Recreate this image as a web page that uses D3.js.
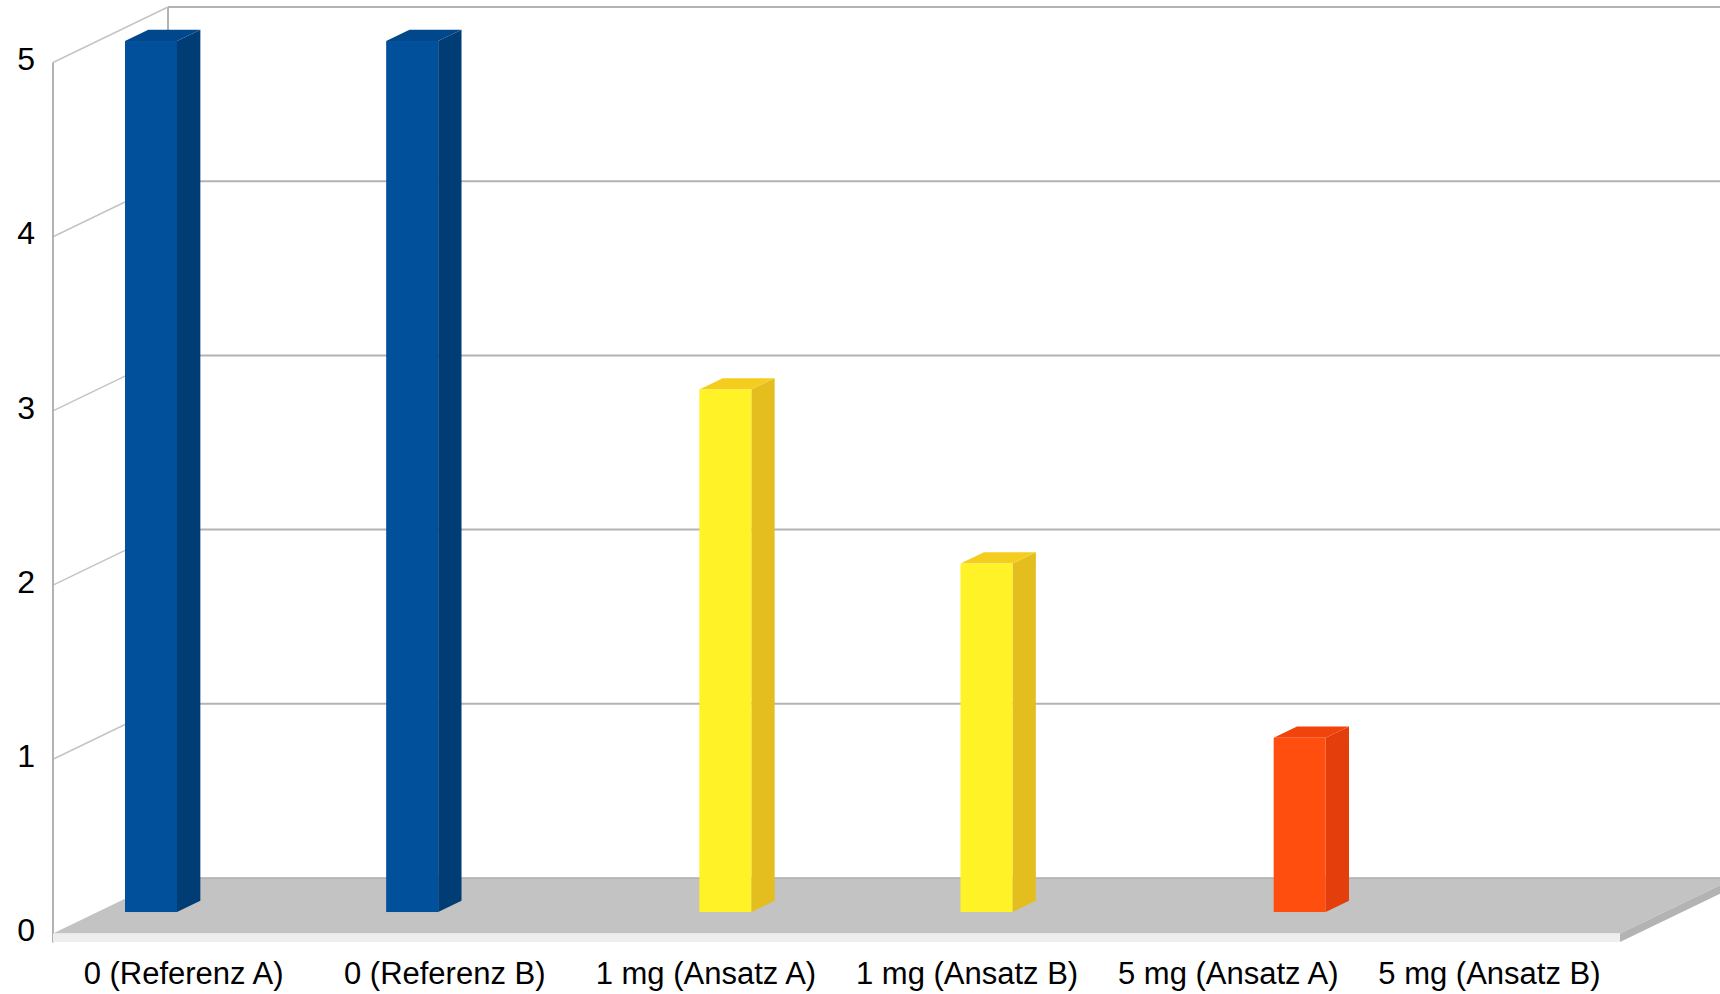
<!DOCTYPE html>
<html lang="de">
<head>
  <meta charset="UTF-8">
  <title>3D Säulendiagramm</title>
  <script src="https://d3js.org/d3.v7.min.js"></script>
  <style>
    body {
      margin: 0;
      padding: 0;
      background: #ffffff;
    }
    svg {
      display: block;
      font-family: "Liberation Sans", Arial, sans-serif;
    }
  </style>
</head>
<body>
  <svg width="1720" height="994"></svg>

  <script>
    // data
    const categories = ["0 (Referenz A)", "0 (Referenz B)", "1 mg (Ansatz A)", "1 mg (Ansatz B)", "5 mg (Ansatz A)", "5 mg (Ansatz B)"];
    const seriesNames = ["Reihe 1", "Reihe 2", "Reihe 3"];
    const series1 = [5, 5, 0, 0, 0, 0];
    const series2 = [0, 0, 3, 2, 0, 0];
    const series3 = [0, 0, 0, 0, 1, 0];
    const yTicks = [0, 1, 2, 3, 4, 5];

    const seriesValues = [series1, series2, series3];
    const colors = [
      {front: "#00509b", side: "#003d75", top: "#00478b"},
      {front: "#fff226", side: "#e3be1e", top: "#f4cd1e"},
      {front: "#ff4e0e", side: "#e33e0c", top: "#f0440c"}
    ];

    const svg = d3.select("svg");

    // simple oblique projection: x on back wall, value, depth t (0 = back, 1 = front)
    const depthX = 115, depthY = 55.5;
    const wallLeft = 168;
    const floorWidth = 1567;

    const yScale = d3.scaleLinear().domain([0, 5]).range([878, 7]);
    const xScale = d3.scaleBand().domain(categories).range([wallLeft, wallLeft + floorWidth]);
    const slotScale = d3.scaleBand().domain(seriesNames).range([27.5, 27.5 + 3 * 52]);

    const proj = (x, v, t) => [x - depthX * t, yScale(v) + depthY * t];
    const pts = arr => arr.map(p => p.join(",")).join(" ");

    const gridColor = "#b3b3b3";

    // back wall
    const back = svg.append("g");
    back.selectAll("line.grid")
      .data(yTicks.filter(d => d > 0))
      .join("line")
      .attr("x1", wallLeft)
      .attr("x2", 1720)
      .attr("y1", d => yScale(d))
      .attr("y2", d => yScale(d))
      .attr("stroke", gridColor)
      .attr("stroke-width", 2);
    back.append("line")
      .attr("x1", wallLeft).attr("x2", wallLeft)
      .attr("y1", yScale(5)).attr("y2", yScale(0))
      .attr("stroke", gridColor)
      .attr("stroke-width", 2);

    // left wall
    const side = svg.append("g");
    side.selectAll("line.grid")
      .data(yTicks.filter(d => d > 0))
      .join("line")
      .attr("x1", d => proj(wallLeft, d, 0)[0])
      .attr("y1", d => proj(wallLeft, d, 0)[1])
      .attr("x2", d => proj(wallLeft, d, 1)[0])
      .attr("y2", d => proj(wallLeft, d, 1)[1])
      .attr("stroke", "#c4c4c4")
      .attr("stroke-width", 1.5);
    side.append("line")
      .attr("x1", wallLeft - depthX).attr("x2", wallLeft - depthX)
      .attr("y1", proj(wallLeft, 5, 1)[1]).attr("y2", proj(wallLeft, 0, 1)[1] + 9)
      .attr("stroke", gridColor)
      .attr("stroke-width", 2);

    // floor
    const floorRight = wallLeft + floorWidth;
    const thick = 8.5;
    const floor = svg.append("g");
    floor.append("polygon")
      .attr("points", pts([proj(wallLeft, 0, 0), proj(floorRight, 0, 0), proj(floorRight, 0, 1), proj(wallLeft, 0, 1)]))
      .attr("fill", "#c3c3c3");
    floor.append("line")
      .attr("x1", wallLeft).attr("x2", 1720)
      .attr("y1", yScale(0)).attr("y2", yScale(0))
      .attr("stroke", "#acacac")
      .attr("stroke-width", 1.5);
    const fl = proj(wallLeft, 0, 1), fr = proj(floorRight, 0, 1), br = proj(floorRight, 0, 0);
    floor.append("polygon")
      .attr("points", pts([fl, fr, [fr[0], fr[1] + thick], [fl[0], fl[1] + thick]]))
      .attr("fill", "#eeeeee");
    floor.append("polygon")
      .attr("points", pts([fr, br, [br[0], br[1] + thick], [fr[0], fr[1] + thick]]))
      .attr("fill", "#b3b3b3");

    // bars
    const tFront = 0.613, tBack = 0.41;
    const bars = [];
    seriesValues.forEach((vals, s) => {
      vals.forEach((v, i) => {
        if (v > 0) bars.push({cat: categories[i], series: seriesNames[s], s: s, value: v});
      });
    });

    const barG = svg.append("g")
      .selectAll("g")
      .data(bars)
      .join("g");

    barG.each(function(d) {
      const g = d3.select(this);
      const x0 = xScale(d.cat) + slotScale(d.series);
      const x1 = x0 + slotScale.bandwidth();
      const c = colors[d.s];
      g.append("polygon")
        .attr("points", pts([proj(x1, 0, tFront), proj(x1, d.value, tFront), proj(x1, d.value, tBack), proj(x1, 0, tBack)]))
        .attr("fill", c.side);
      g.append("polygon")
        .attr("points", pts([proj(x0, d.value, tFront), proj(x1, d.value, tFront), proj(x1, d.value, tBack), proj(x0, d.value, tBack)]))
        .attr("fill", c.top);
      const p0 = proj(x0, d.value, tFront), p1 = proj(x1, 0, tFront);
      g.append("rect")
        .attr("x", p0[0])
        .attr("y", p0[1])
        .attr("width", p1[0] - p0[0])
        .attr("height", p1[1] - p0[1])
        .attr("fill", c.front);
    });

    // y labels
    svg.append("g")
      .selectAll("text")
      .data(yTicks)
      .join("text")
      .attr("x", 35)
      .attr("y", d => proj(wallLeft, d, 1)[1])
      .attr("dy", "0.24em")
      .attr("text-anchor", "end")
      .attr("font-size", 32)
      .attr("fill", "#000")
      .text(d => d);

    // x labels
    svg.append("g")
      .selectAll("text")
      .data(categories)
      .join("text")
      .attr("x", d => xScale(d) + xScale.bandwidth() / 2 - depthX)
      .attr("y", 984)
      .attr("text-anchor", "middle")
      .attr("font-size", 31)
      .attr("fill", "#000")
      .text(d => d);
  </script>
</body>
</html>
